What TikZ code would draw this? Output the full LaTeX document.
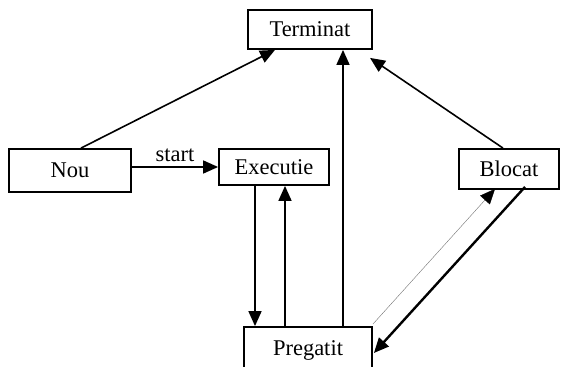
\documentclass[tikz,border=0pt]{standalone}
\usepackage{fontspec}
\setmainfont{Liberation Serif}
\usetikzlibrary{arrows.meta,calc}
\begin{document}
\begin{tikzpicture}[x=1pt,y=-1pt,
  state/.style={draw=black,line width=1.8pt,fill=white,inner sep=0pt,
    font=\fontsize{22.5}{26}\selectfont},
  conn/.style={line width=1.6pt,-{Triangle[length=15pt,width=13pt]}},
  thinconn/.style={line width=0.4pt,draw=black!55,-{Triangle[length=15pt,width=13pt,color=black]}},
  thickconn/.style={line width=2.4pt,-{Triangle[length=15pt,width=13pt]}},
  lbl/.style={font=\fontsize{22.5}{26}\selectfont,inner sep=0pt}]
\useasboundingbox (0,0) rectangle (561,366);
\clip (0,0) rectangle (561,366);
\node[state,minimum width=124pt,minimum height=39pt] (term) at (310,29.5) {Terminat};
\node[state,minimum width=122pt,minimum height=43pt] (nou) at (70,170.5) {Nou};
\node[state,minimum width=110pt,minimum height=36pt] (exec) at (274,167) {Executie};
\node[state,minimum width=100pt,minimum height=40pt] (blocat) at (509,169) {Blocat};
\node[state,minimum width=128pt,minimum height=46pt] (preg) at (308,350) {Pregatit};
% Nou -> Terminat
\draw[conn] ($(nou.north)+(11,0)$) -- ($(term.south)+(-35,0)$);
% Nou -> Executie
\draw[conn] (nou.east |- exec.west) -- node[lbl,above=4pt] (startlbl) {start} (exec.west);
% Executie -> Pregatit
\draw[conn] ($(exec.south)+(-19,0)$) -- ($(preg.north)+(-53,0)$);
% Pregatit -> Executie
\draw[conn] ($(preg.north)+(-23,0)$) -- ($(exec.south)+(11,0)$);
% Pregatit -> Terminat
\draw[conn] ($(preg.north)+(35,0)$) -- ($(term.south)+(33,0)$);
% Blocat -> Terminat
\draw[conn] ($(blocat.north)+(-6,0)$) -- ($(term.south)+(60,8)$);
% Pregatit -> Blocat (thin)
\draw[thinconn] ($(preg.north east)+(0,-2)$) -- ($(blocat.south)+(-14,-1)$);
% Blocat -> Pregatit (thick)
\draw[thickconn] ($(blocat.south)+(16,-3)$) -- ($(preg.east)+(1,3)$);
\end{tikzpicture}
\end{document}
